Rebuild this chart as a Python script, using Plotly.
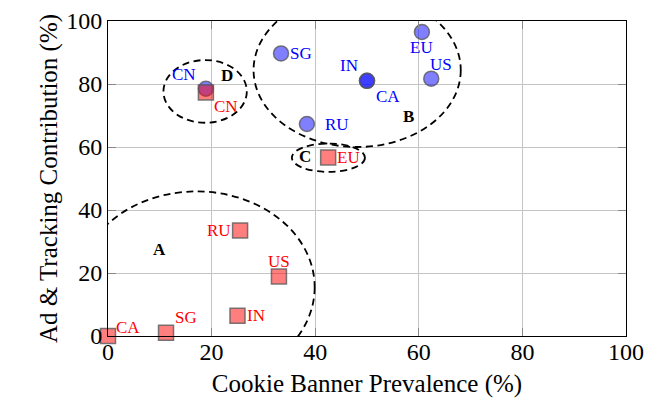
import plotly.graph_objects as go

# ---- data ----
countries_blue = ["CN", "SG", "IN", "CA", "RU", "EU", "US"]
banner_blue = [18.9, 33.4, 50.0, 50.0, 38.4, 60.6, 62.4]
tracking_blue = [78.5, 89.7, 81.0, 81.0, 67.3, 96.5, 81.7]

countries_red = ["CN", "EU", "RU", "US", "IN", "SG", "CA"]
banner_red = [18.9, 42.5, 25.5, 33.0, 25.0, 11.2, 0.0]
tracking_red = [77.3, 56.7, 33.5, 18.9, 6.4, 1.0, 0.0]

tick_vals = [0, 20, 40, 60, 80, 100]

# cluster ellipses: name, center x, center y, radius x, radius y, label x, label y
cluster_names = ["A", "B", "C", "D"]
cluster_cx = [17.1, 48.1, 42.55, 18.75]
cluster_cy = [15.5, 84.4, 56.6, 77.65]
cluster_rx = [22.8, 20.0, 7.05, 8.05]
cluster_ry = [30.4, 24.4, 4.5, 9.95]
cluster_lx = [10.0, 58.0, 38.0, 22.9]
cluster_ly = [27.4, 69.6, 56.9, 82.7]

# ---- styles (label pixel offsets) ----
blue_offsets = {"CN": (-22, 14), "SG": (20, 0), "IN": (-18, 15), "CA": (21, -16),
                "RU": (30, 0), "EU": (0, -15), "US": (10, 14)}
red_offsets = {"CN": (20, -14), "EU": (20, 0), "RU": (-21, 0), "US": (0, 15),
               "IN": (18, 0), "SG": (20, 15), "CA": (20, 9)}

SERIF = "Liberation Serif, Times New Roman, Times, serif"

fig = go.Figure()
fig.add_trace(go.Scatter(
    x=banner_blue, y=tracking_blue, mode="markers", cliponaxis=False,
    marker=dict(symbol="circle", size=15, color="rgba(0,0,255,0.5)",
                line=dict(color="rgba(90,90,90,0.8)", width=1.5)),
    showlegend=False))
fig.add_trace(go.Scatter(
    x=banner_red, y=tracking_red, mode="markers", cliponaxis=False,
    marker=dict(symbol="square", size=15, color="rgba(255,0,0,0.5)",
                line=dict(color="rgba(90,90,90,0.8)", width=1.5)),
    showlegend=False))

annotations = []
for c, x, y in zip(countries_blue, banner_blue, tracking_blue):
    dx, dy = blue_offsets[c]
    annotations.append(dict(x=x, y=y, text=c, showarrow=False, xshift=dx, yshift=dy,
                            font=dict(family=SERIF, size=17, color="#0000ff")))
for c, x, y in zip(countries_red, banner_red, tracking_red):
    dx, dy = red_offsets[c]
    annotations.append(dict(x=x, y=y, text=c, showarrow=False, xshift=dx, yshift=dy,
                            font=dict(family=SERIF, size=17, color="#ff0000")))

shapes = []
for n, cx, cy, rx, ry, lx, ly in zip(cluster_names, cluster_cx, cluster_cy, cluster_rx,
                                     cluster_ry, cluster_lx, cluster_ly):
    shapes.append(dict(type="circle", xref="x", yref="y",
                       x0=cx - rx, x1=cx + rx, y0=cy - ry, y1=cy + ry,
                       line=dict(color="black", width=1.8, dash="7px,4.5px"), layer="above"))
    annotations.append(dict(x=lx, y=ly, text="<b>%s</b>" % n, showarrow=False,
                            font=dict(family=SERIF, size=17, color="black")))

axis_common = dict(range=[0, 100], tickvals=tick_vals, showgrid=True, gridcolor="#c4c4c4",
                   gridwidth=1, zeroline=False, showline=True, linecolor="black",
                   linewidth=1, mirror="ticks", ticks="inside", ticklen=8,
                   tickcolor="#888888", automargin=False,
                   tickfont=dict(family=SERIF, size=24, color="black"))

fig.update_layout(
    width=645, height=403,
    margin=dict(l=108, r=19, t=21, b=67),
    paper_bgcolor="white", plot_bgcolor="white",
    font=dict(family=SERIF),
    xaxis=dict(axis_common, ticklabelstandoff=-6,
               title=dict(text="Cookie Banner Prevalence (%)", standoff=10,
                          font=dict(family=SERIF, size=25, color="black"))),
    yaxis=dict(axis_common,
               title=dict(text="Ad &amp; Tracking Contribution (%)", standoff=1,
                          font=dict(family=SERIF, size=25, color="black"))),
    shapes=shapes, annotations=annotations,
)

fig.write_html("out.html", config={"displayModeBar": False},
               post_script="document.body.style.margin='0';"
                           "document.body.style.overflow='hidden';")
